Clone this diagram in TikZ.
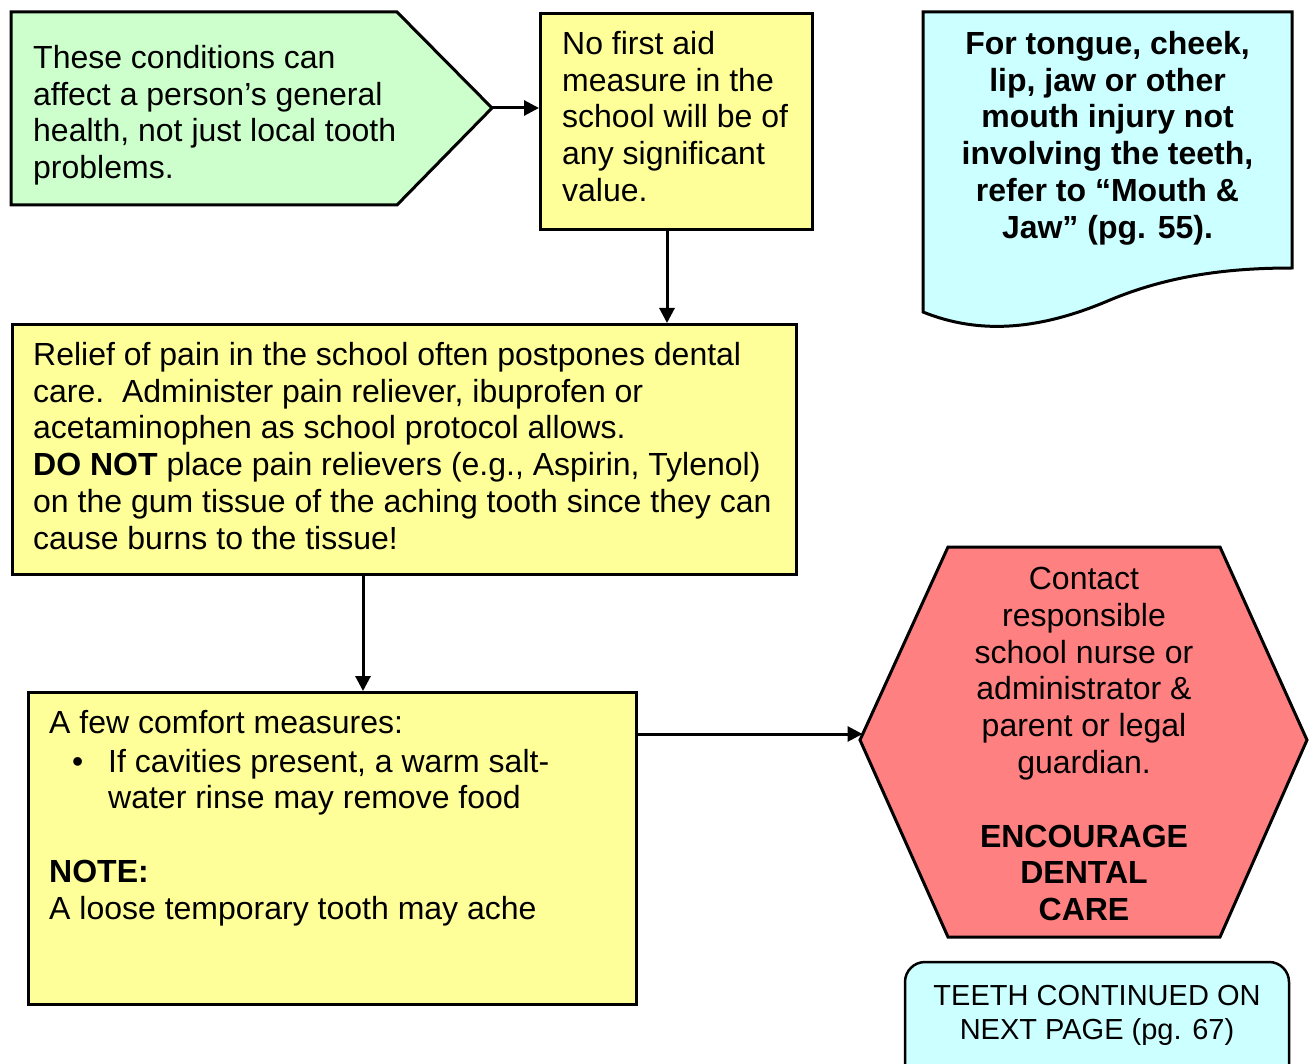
\documentclass[tikz,border=0pt]{standalone}
\usepackage{fontspec}
\setmainfont{Liberation Sans}
\usetikzlibrary{arrows.meta,calc}
\definecolor{lgreen}{HTML}{CCFFCC}
\definecolor{lyellow}{HTML}{FFFF99}
\definecolor{lcyan}{HTML}{CCFFFF}
\definecolor{lred}{HTML}{FF8080}
\tikzset{
  shapeline/.style={draw=black, line width=3pt, line join=miter},
  boxnode/.style={shapeline, rectangle, inner sep=0pt, anchor=north west},
  txt/.style={inner sep=0pt, font=\fontsize{32}{36.8}\selectfont},
  conn/.style={draw=black, line width=3pt, -{Triangle[length=15pt,width=15pt]}}
}
\begin{document}
\begin{tikzpicture}[x=1pt,y=-1pt]
\useasboundingbox (0,0) rectangle (1309,1064);
% green pentagon
\draw[shapeline, fill=lgreen] (11,12) -- (397,12) -- (492,108) coordinate (gtip) -- (397,205) -- (11,205) -- cycle;
\node[txt, anchor=north west, align=left] (tg) at (33,45) {These conditions can\\affect a person’s general\\health, not just local tooth\\problems.};
% box 1
\node[boxnode, fill=lyellow, minimum width=272pt, minimum height=216pt] (b1) at (539,12) {};
\node[txt, anchor=north west, align=left] (t1) at (562,31) {No first aid\\measure in the\\school will be of\\any significant\\value.};
% document shape
\draw[shapeline, fill=lcyan] (923,12) -- (1292,12) -- (1292,268)
  .. controls (1230,268) and (1170,275) .. (1110,300)
  .. controls (1040,330) and (980,335) .. (923,312) -- cycle;
\node[txt, anchor=north, align=center, font=\fontsize{32}{36.8}\selectfont\bfseries] (td) at (1107.5,31) {For tongue, cheek,\\lip, jaw or other\\mouth injury not\\involving the teeth,\\refer to “Mouth \&\\Jaw” (pg. 55).};
% box 2
\node[boxnode, fill=lyellow, minimum width=784pt, minimum height=250pt] (b2) at (11,323) {};
\node[txt, anchor=north west, align=left] (t2) at (33,342) {Relief of pain in the school often postpones dental\\care.\ \ Administer pain reliever, ibuprofen or\\acetaminophen as school protocol allows.\\\textbf{DO NOT} place pain relievers (e.g., Aspirin, Tylenol)\\on the gum tissue of the aching tooth since they can\\cause burns to the tissue!};
% box 3
\node[boxnode, fill=lyellow, minimum width=608pt, minimum height=312pt] (b3) at (27,691) {};
\node[txt, anchor=north west, align=left] (t3) at (49,710) {A few comfort measures:\\[2pt]\hspace*{23pt}\makebox[36pt][l]{•}If cavities present, a warm salt-\\\hspace*{59pt}water rinse may remove food\\[36.8pt]\textbf{NOTE:}\\A loose temporary tooth may ache};
% hexagon
\draw[shapeline, fill=lred] (948,547) -- (1220,547) -- (1307,740) -- (1220,937) -- (948,937) -- (860,740) coordinate (hl) -- cycle;
\coordinate (hin) at (862.5,734);
\node[txt, anchor=north, align=center] (th) at (1084,567) {Contact\\responsible\\school nurse or\\administrator \&\\parent or legal\\guardian.\\[36.8pt]\textbf{ENCOURAGE}\\\textbf{DENTAL}\\\textbf{CARE}};
% rounded box
\draw[draw=black, line width=2.5pt, fill=lcyan, rounded corners=20pt] (905,962) rectangle (1289,1090);
\node[inner sep=0pt, font=\fontsize{29}{34}\selectfont, anchor=north, align=center] (tr) at (1097,985) {TEETH CONTINUED ON\\NEXT PAGE (pg. 67)};
% connectors
\draw[conn] (gtip) -- (gtip -| b1.west);
\coordinate (a2) at (667,229);
\draw[conn] (a2) -- (a2 |- b2.north);
\coordinate (a3) at (363,574);
\draw[conn] (a3) -- (a3 |- b3.north);
\draw[conn] (b3.east |- hin) -- (hin);
\end{tikzpicture}
\end{document}
